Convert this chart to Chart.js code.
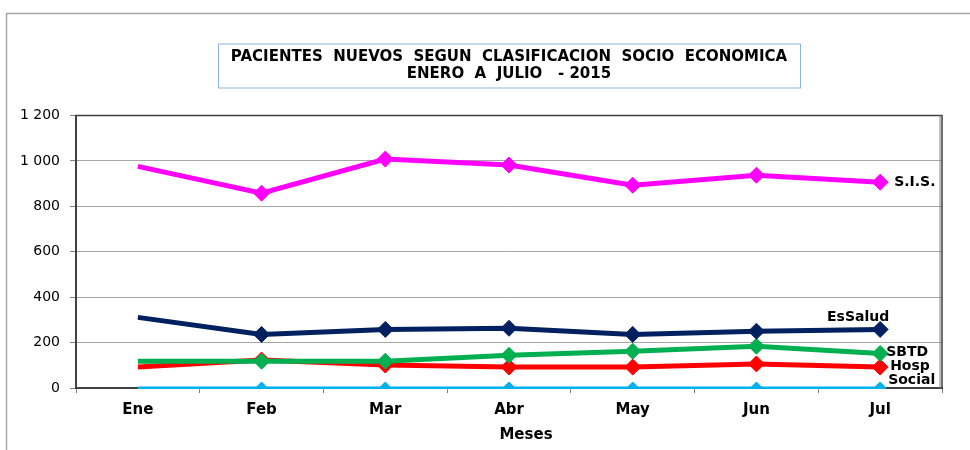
<!DOCTYPE html>
<html><head><meta charset="utf-8">
<script src="https://cdn.jsdelivr.net/npm/chart.js@4/dist/chart.umd.min.js"></script>
<style>html,body{margin:0;padding:0;background:#fff}#wrap{width:970px;height:450px}</style>
</head><body><div id="wrap"><canvas id="c" width="970" height="450"></canvas></div>
<script>
const months = ['Ene','Feb','Mar','Abr','May','Jun','Jul'];
const seriesNames = ['S.I.S.','EsSalud','SBTD','Hosp','Social'];
const sis = [976, 858, 1008, 982, 893, 937, 906];
const essalud = [311, 236, 258, 263, 236, 250, 258];
const sbtd = [118, 118, 118, 144, 162, 184, 152];
const hosp = [92, 123, 101, 92, 92, 106, 92];
const social = [0, 0, 0, 0, 0, 0, 0];
const yTicks = [0, 200, 400, 600, 800, 1000, 1200];
const titleLines = ['PACIENTES  NUEVOS  SEGUN  CLASIFICACION  SOCIO  ECONOMICA', 'ENERO  A  JULIO   - 2015'];
const xTitle = 'Meses';

const FONT = 'DejaVu Sans';
const colors = ['#FF00FF', '#002060', '#00B050', '#FF0000', '#00B0F0'];
const seriesData = [sis, essalud, sbtd, hosp, social];
const labelPos = [
  {dx: 14, dy: 0, align: 'left'},
  {dx: -22, dy: -12, align: 'center'},
  {dx: 6, dy: -1, align: 'left'},
  {dx: 10, dy: -1, align: 'left'},
  {dx: 8, dy: -8, align: 'left'}
];

function fmt(v) { return String(v).replace(/\B(?=(\d{3})+(?!\d))/g, ' '); }

const decor = {
  id: 'decor',
  beforeDatasetsDraw(chart) {
    const ctx = chart.ctx, a = chart.chartArea;
    ctx.save();
    ctx.strokeStyle = '#404040';
    ctx.lineWidth = 1.5;
    ctx.strokeRect(a.left, a.top, a.right - a.left, a.bottom - a.top);
    ctx.beginPath();
    ctx.moveTo(a.right - 2, a.top); ctx.lineTo(a.right - 2, a.bottom);
    ctx.lineWidth = 1; ctx.strokeStyle = '#808080'; ctx.stroke();
    ctx.restore();
  },
  afterDraw(chart) {
    const ctx = chart.ctx, a = chart.chartArea;
    const cx = (a.left + a.right) / 2;
    ctx.save();
    ctx.strokeStyle = '#a6a6a6'; ctx.lineWidth = 1.5;
    ctx.beginPath(); ctx.moveTo(6.5, 450); ctx.lineTo(6.5, 13.5); ctx.lineTo(970, 13.5); ctx.stroke();
    ctx.strokeStyle = '#8DB4E2'; ctx.lineWidth = 1;
    ctx.strokeRect(cx - 291 + 0.5, a.top - 72 + 0.5, 582, 44);
    ctx.fillStyle = '#000';
    ctx.font = 'bold 15px "' + FONT + '"';
    ctx.textAlign = 'center'; ctx.textBaseline = 'middle';
    ctx.fillText(xTitle, cx + 17, a.bottom + 47);
    ctx.font = 'bold 14px "' + FONT + '"';
    chart.data.datasets.forEach((ds, i) => {
      const meta = chart.getDatasetMeta(i);
      const p = meta.data[meta.data.length - 1];
      const lp = labelPos[i];
      ctx.textAlign = lp.align;
      ctx.fillText(seriesNames[i], p.x + lp.dx, p.y + lp.dy);
    });
    ctx.restore();
  }
};

new Chart(document.getElementById('c'), {
  type: 'line',
  data: {
    labels: months,
    datasets: seriesData.map((d, i) => ({
      label: seriesNames[i],
      data: d,
      borderColor: colors[i],
      backgroundColor: colors[i],
      borderWidth: i === 4 ? 3 : 5,
      pointStyle: 'rectRot',
      pointRadius: c => c.dataIndex === 0 ? 0 : (i === 4 ? 6 : 8),
      pointBorderWidth: 1,
      pointBackgroundColor: colors[i],
      pointBorderColor: colors[i],
      tension: 0,
      clip: i === 4 ? {left: 10, right: 10, top: 10, bottom: 1} : 12
    }))
  },
  options: {
    responsive: false,
    animation: false,
    devicePixelRatio: 1,
    layout: {padding: {left: 0, right: 28, top: 0, bottom: 0}},
    plugins: {
      legend: {display: false},
      tooltip: {enabled: false},
      title: {
        display: true,
        text: titleLines,
        fullSize: false,
        color: '#000',
        font: {family: FONT, size: 15, weight: 'bold', lineHeight: 1.15},
        padding: {top: 48, bottom: 33}
      }
    },
    scales: {
      x: {
        offset: true,
        grid: {drawOnChartArea: false, offset: true, tickLength: 5, color: '#808080'},
        border: {color: '#404040', width: 2},
        ticks: {color: '#000', padding: 8, font: {family: FONT, size: 15, weight: 'bold'}},
        afterFit: s => { s.height = 62; }
      },
      y: {
        min: 0, max: 1200,
        afterBuildTicks: s => { s.ticks = yTicks.map(v => ({value: v})); },
        grid: {color: '#a6a6a6', lineWidth: 1, tickLength: 6, tickColor: '#808080'},
        border: {color: '#404040', width: 2},
        ticks: {color: '#000', padding: 10, font: {family: FONT, size: 14}, callback: v => fmt(v)},
        afterFit: s => { s.width = 76; }
      }
    }
  },
  plugins: [decor]
});
</script>
</body></html>
